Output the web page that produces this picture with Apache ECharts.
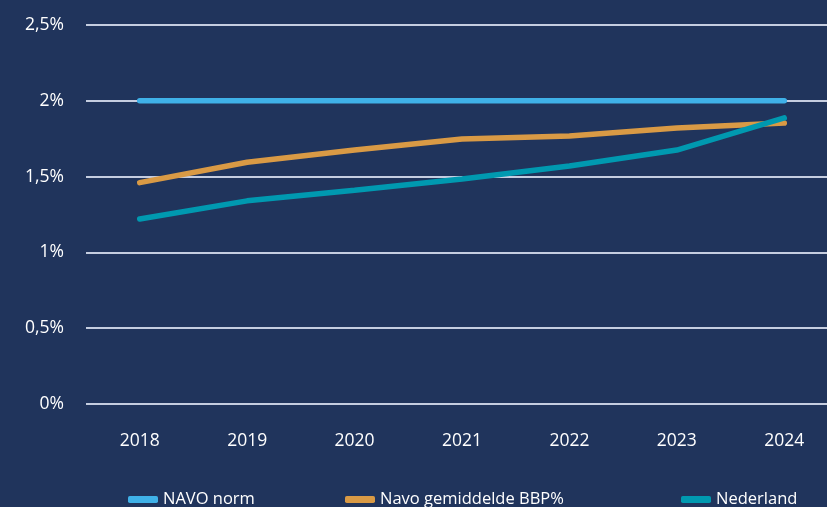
<!DOCTYPE html>
<html><head><meta charset="utf-8">
<script src="https://cdn.jsdelivr.net/npm/echarts@6/dist/echarts.min.js"></script>
<style>html,body{margin:0;padding:0;background:#20345c;overflow:hidden}#c{width:840px;height:507px}</style>
</head><body><div id="c"></div>
<script>
const years = ['2018','2019','2020','2021','2022','2023','2024'];
const navoNorm = [2, 2, 2, 2, 2, 2, 2];
const navoGem = [1.46, 1.595, 1.675, 1.748, 1.768, 1.82, 1.853];
const nederland = [1.22, 1.34, 1.41, 1.484, 1.57, 1.675, 1.887];
const seriesNames = ['NAVO norm', 'Navo gemiddelde BBP%', 'Nederland'];
const colors = ['#3fb1e8', '#d99a45', '#0099b0'];
const font = 'Open Sans';
const chart = echarts.init(document.getElementById('c'));
const mkLegend = (name, left) => ({
  data: [name], left: left, top: 486, itemWidth: 30, itemHeight: 7, itemGap: 8,
  icon: 'roundRect',
  textStyle: {color: '#ffffff', fontSize: 16.5, fontFamily: font}
});
chart.setOption({
  backgroundColor: '#20345c',
  animation: false,
  color: colors,
  grid: {left: 86, right: 2, top: 25, bottom: 103},
  legend: [mkLegend(seriesNames[0], 123), mkLegend(seriesNames[1], 340), mkLegend(seriesNames[2], 676)],
  xAxis: {
    type: 'category', data: years, boundaryGap: true,
    axisLine: {show: false}, axisTick: {show: false},
    axisLabel: {color: '#ffffff', fontSize: 17.5, fontFamily: font, margin: 28}
  },
  yAxis: {
    type: 'value', min: 0, max: 2.5, interval: 0.5,
    axisLabel: {color: '#ffffff', fontSize: 17.5, fontFamily: font, margin: 22,
      formatter: v => String(v).replace('.', ',') + '%'},
    splitLine: {lineStyle: {color: '#c5cde0', width: 2}},
    axisLine: {show: false}, axisTick: {show: false}
  },
  series: [
    {name: seriesNames[0], type: 'line', data: navoNorm, symbol: 'none', lineStyle: {width: 5.5, cap: 'round'}},
    {name: seriesNames[1], type: 'line', data: navoGem, symbol: 'none', lineStyle: {width: 5.5, cap: 'round'}},
    {name: seriesNames[2], type: 'line', data: nederland, symbol: 'none', lineStyle: {width: 5.5, cap: 'round'}}
  ]
});
</script></body></html>
